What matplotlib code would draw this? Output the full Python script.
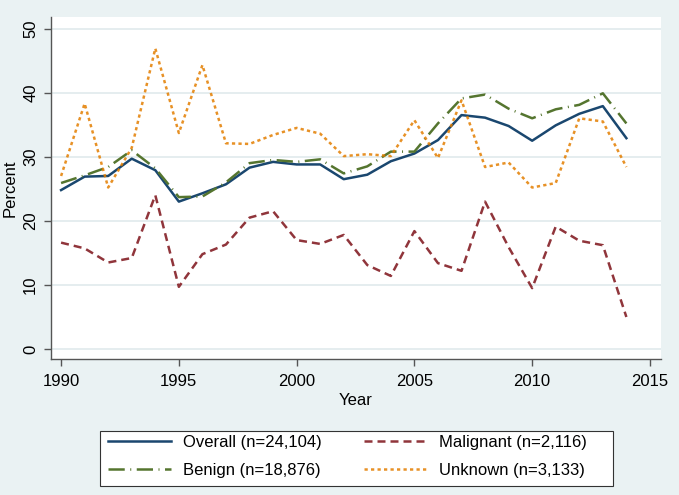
import numpy as np
import matplotlib
matplotlib.use("Agg")
import matplotlib.pyplot as plt
from matplotlib.patches import Rectangle

plt.rcParams['font.family'] = ['Liberation Sans', 'DejaVu Sans']

# Data
years = list(range(1990, 2015))
overall = [24.8, 26.9, 27.0, 29.7, 27.9, 23.0, 24.3, 25.7, 28.3, 29.2, 28.8, 28.8, 26.5,
           27.2, 29.3, 30.5, 32.6, 36.5, 36.1, 34.8, 32.5, 34.9, 36.7, 37.9, 32.9]
malignant = [16.6, 15.7, 13.5, 14.2, 24.0, 9.7, 14.8, 16.3, 20.5, 21.5, 17.0, 16.4, 17.8,
             13.1, 11.4, 18.4, 13.4, 12.2, 23.0, 15.9, 9.5, 19.1, 16.9, 16.2, 5.0]
benign = [25.9, 27.1, 28.4, 31.0, 28.2, 23.7, 23.8, 26.0, 29.0, 29.5, 29.2, 29.6, 27.4,
          28.5, 30.8, 30.8, 35.2, 39.1, 39.7, 37.5, 36.0, 37.4, 38.1, 39.9, 35.2]
unknown = [27.0, 38.3, 25.2, 31.4, 46.9, 33.7, 44.3, 32.1, 32.0, 33.4, 34.5, 33.6, 30.1,
           30.4, 30.1, 35.7, 29.8, 38.8, 28.4, 29.1, 25.2, 25.9, 36.0, 35.5, 28.4]

labels = ["Overall (n=24,104)", "Malignant (n=2,116)",
          "Benign (n=18,876)", "Unknown (n=3,133)"]

bg = "#eaf2f3"
fs = 12
W, H = 679, 495
fig = plt.figure(figsize=(6.79, 4.95), dpi=100, facecolor=bg)
ax = fig.add_axes([0.0747, 0.2747, 0.8988, 0.6909])
ax.set_facecolor("white")

lw = 1.8
l1, = ax.plot(years, overall, color="#1a476f", lw=lw, label=labels[0])
l2, = ax.plot(years, malignant, color="#90353b", lw=lw, dashes=(3.2, 2.0), label=labels[1])
l3, = ax.plot(years, benign, color="#55752f", lw=lw, dashes=(6.5, 2.2, 0.4, 2.2), label=labels[2])
l4, = ax.plot(years, unknown, color="#e37e00", lw=lw, dashes=(1.3, 1.3), alpha=0.85, label=labels[3])

ax.set_xlim(1989.56, 2015.47)
ax.set_ylim(-1.56, 51.8)
ax.set_xticks([1990, 1995, 2000, 2005, 2010, 2015])
ax.set_yticks([0, 10, 20, 30, 40, 50])
ax.grid(axis="y", color="#e3ecee", lw=1.3)
ax.set_axisbelow(True)

for s in ["top", "right"]:
    ax.spines[s].set_visible(False)
for s in ["left", "bottom"]:
    ax.spines[s].set_color("#555555")
    ax.spines[s].set_linewidth(1.0)
ax.tick_params(direction="out", length=5, width=1.0, color="#555555",
               labelsize=fs, pad=4)
ax.tick_params(axis="x", pad=6)
for t in ax.get_yticklabels():
    t.set_rotation(90)
    t.set_va("center")

ax.set_xlabel("Year", fontsize=fs, labelpad=3)
ax.set_ylabel("Percent", fontsize=fs, labelpad=4)

# legend frame drawn on its own (Stata leaves extra room on the right)
fig.patches.append(Rectangle((99.9 / W, 1 - 485.7 / H), 513.4 / W, 55.2 / H,
                             transform=fig.transFigure, facecolor="white",
                             edgecolor="#333333", lw=0.8, zorder=0))

# matplotlib fills legend columns first, so order handles to get the reference rows
leg = fig.legend(handles=[l1, l3, l2, l4], ncol=2, loc="upper left",
                 bbox_to_anchor=(107.6 / W, 1 - 435 / H),
                 fontsize=fs, frameon=False, handlelength=3.8,
                 handletextpad=0.7, borderaxespad=0, borderpad=0,
                 labelspacing=0.75, columnspacing=2.55)

fig.savefig("out.png", dpi=100, facecolor=bg)
